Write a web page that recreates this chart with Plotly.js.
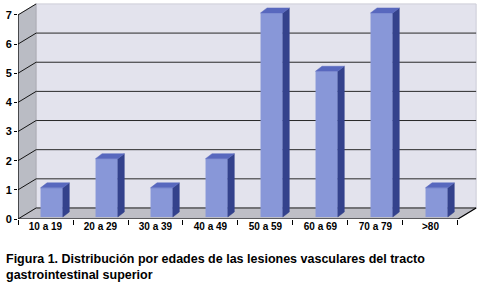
<!DOCTYPE html>
<html>
<head>
<meta charset="utf-8">
<script src="https://cdn.plot.ly/plotly-3.0.1.min.js"></script>
<style>html,body{margin:0;padding:0;background:#fff;}#chart{width:480px;height:295px;}</style>
</head>
<body>
<div id="chart"></div>
<script>
// ---- data ----
var categories = ['10 a 19','20 a 29','30 a 39','40 a 49','50 a 59','60 a 69','70 a 79','>80'];
var values = [1, 2, 1, 2, 7, 5, 7, 1];
var yTickVals = [0, 1, 2, 3, 4, 5, 6, 7];
var yTickText = ['0','1','2','3','4','5','6','7'];
var chartTitle = 'Figura 1. Distribución por edades de las lesiones vasculares del tracto<br>gastrointestinal superior';

// ---- style / geometry (3D look) ----
var FONT = '"Liberation Sans", Arial, sans-serif';
var wallDX = 0.33, wallDY = 0.378;     // depth of walls in data units
var barLeft = -0.09, barWidth = 0.405; // bar front face relative to category index
var barBase = 0.07;                    // bar sits slightly behind the front plane
var barDX = 0.118, barDY = 0.17;       // bar depth
var yMax = 7;
var n = categories.length;
var xs = categories.map(function(_, i){ return i; });
var x0 = -0.5, x1 = n - 0.5;

function path(pts){
  return 'M' + pts.map(function(p){ return p[0] + ',' + p[1]; }).join(' L') + ' Z';
}
var shapes = [];
// back wall
shapes.push({type:'path', layer:'below', xref:'x', yref:'y',
  path: path([[x0+wallDX, wallDY],[x1+wallDX, wallDY],[x1+wallDX, yMax+wallDY],[x0+wallDX, yMax+wallDY]]),
  fillcolor:'rgb(227,227,237)', line:{color:'rgb(205,205,215)', width:1}});
// left side wall
shapes.push({type:'path', layer:'below', xref:'x', yref:'y',
  path: path([[x0,0],[x0,yMax],[x0+wallDX,yMax+wallDY],[x0+wallDX,wallDY]]),
  fillcolor:'rgb(186,188,196)', line:{color:'rgb(150,150,160)', width:0.5}});
// floor
shapes.push({type:'path', layer:'below', xref:'x', yref:'y',
  path: path([[x0,0],[x0+wallDX,wallDY],[x1+wallDX,wallDY],[x1,0]]),
  fillcolor:'rgb(190,190,198)', line:{color:'rgb(150,150,160)', width:0.5}});
// gridlines on back wall and side wall
yTickVals.forEach(function(v){
  if (v > 0 && v < yMax) {
    shapes.push({type:'line', layer:'below', xref:'x', yref:'y',
      x0:x0+wallDX, x1:x1+wallDX, y0:v+wallDY, y1:v+wallDY, line:{color:'rgb(40,40,40)', width:1}});
  }
  shapes.push({type:'line', layer:'below', xref:'x', yref:'y',
    x0:x0, x1:x0+wallDX, y0:v, y1:v+wallDY, line:{color:'rgb(20,20,20)', width:1}});
});
// floor/back wall junction
shapes.push({type:'line', layer:'below', xref:'x', yref:'y',
  x0:x0+wallDX, x1:x1+wallDX, y0:wallDY, y1:wallDY, line:{color:'rgb(40,40,40)', width:1}});
// front axis lines
shapes.push({type:'line', layer:'below', xref:'x', yref:'y',
  x0:x0, x1:x1, y0:0, y1:0, line:{color:'#000', width:1.2}});
shapes.push({type:'line', layer:'below', xref:'x', yref:'y',
  x0:x1, x1:x1+wallDX, y0:0, y1:wallDY, line:{color:'#000', width:1.2}});
shapes.push({type:'line', layer:'below', xref:'x', yref:'y',
  x0:x0, x1:x0, y0:0, y1:yMax, line:{color:'#000', width:1.2}});

// bar side & top faces computed from values
var sideX = [], sideY = [], topX = [], topY = [];
xs.forEach(function(c, i){
  var v = values[i] + barBase;
  var l = c + barLeft, r = c + barLeft + barWidth;
  sideX.push(r, r+barDX, r+barDX, r, r, null);
  sideY.push(barBase, barBase+barDY, v+barDY, v, barBase, null);
  topX.push(l, l+barDX, r+barDX, r, l, null);
  topY.push(v, v+barDY, v+barDY, v, v, null);
});

var traces = [
  {type:'bar', x: xs, y: values, base: barBase, width: barWidth, offset: barLeft,
   marker:{color:'rgb(136,151,216)', line:{width:0}}, hoverinfo:'x+y'},
  {type:'scatter', mode:'lines', x: sideX, y: sideY, fill:'toself', fillcolor:'rgb(52,66,140)',
   line:{color:'rgb(52,66,140)', width:0.5}, hoverinfo:'skip'},
  {type:'scatter', mode:'lines', x: topX, y: topY, fill:'toself', fillcolor:'rgb(88,104,190)',
   line:{color:'rgb(88,104,190)', width:0.5}, hoverinfo:'skip'}
];

var layout = {
  width: 480, height: 295,
  margin: {l: 18, r: 2, t: 3, b: 76},
  paper_bgcolor: '#fff', plot_bgcolor: 'rgba(0,0,0,0)',
  showlegend: false,
  font: {family: FONT, color: '#000'},
  title: {text: chartTitle, x: 0.0125, xanchor: 'left', xref: 'container',
          y: 0.108, yanchor: 'top', yref: 'container',
          font: {family: FONT, size: 12.5, color: '#000', weight: 'bold'}},
  xaxis: {type: 'linear', range: [x0, x1 + 0.364], showgrid: false, zeroline: false, showline: false,
          tickmode: 'array', tickvals: xs, ticktext: categories, ticks: '',
          tickfont: {family: FONT, size: 10, color: '#000', weight: 'bold'},
          minor: {tick0: -0.5, dtick: 1, ticks: 'outside', ticklen: 5, tickcolor: '#000', tickwidth: 1, showgrid: false},
          fixedrange: true},
  yaxis: {range: [0, 7.41], showgrid: false, zeroline: false, showline: false,
          tickmode: 'array', tickvals: yTickVals, ticktext: yTickText,
          ticks: 'outside', ticklen: 3, tickcolor: '#000', tickwidth: 1,
          tickfont: {family: FONT, size: 11, color: '#000', weight: 'bold'},
          fixedrange: true},
  shapes: shapes
};

Plotly.newPlot('chart', traces, layout, {displayModeBar: false, staticPlot: true});
</script>
</body>
</html>
